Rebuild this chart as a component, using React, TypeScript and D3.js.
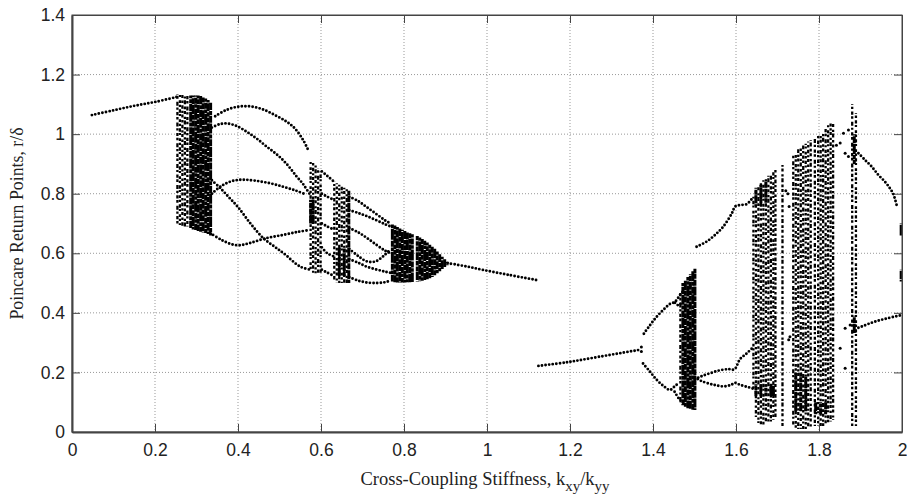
import React, { useEffect, useRef } from 'react'
import * as d3 from 'd3'

// tick values
const xTicks = [0, 0.2, 0.4, 0.6, 0.8, 1, 1.2, 1.4, 1.6, 1.8, 2]
const yTicks = [0, 0.2, 0.4, 0.6, 0.8, 1, 1.2, 1.4]

// single-valued / periodic branches, [k, r]
const branches: [number, number][][] = [
  [[0.048, 1.064], [0.10, 1.08], [0.15, 1.095], [0.20, 1.108], [0.253, 1.125]],
  [[0.345, 1.06], [0.37, 1.08], [0.40, 1.092], [0.43, 1.093], [0.46, 1.083], [0.49, 1.063], [0.517, 1.042], [0.537, 1.019], [0.557, 0.98], [0.569, 0.947]],
  [[0.337, 1.022], [0.355, 1.033], [0.373, 1.036], [0.395, 1.028], [0.421, 1.008], [0.445, 0.985], [0.469, 0.958], [0.495, 0.93], [0.517, 0.9], [0.54, 0.86], [0.557, 0.832], [0.572, 0.80]],
  [[0.337, 0.80], [0.36, 0.826], [0.385, 0.842], [0.41, 0.847], [0.44, 0.844], [0.477, 0.835], [0.51, 0.823], [0.54, 0.81], [0.565, 0.797]],
  [[0.337, 0.845], [0.36, 0.815], [0.38, 0.785], [0.40, 0.755], [0.43, 0.70], [0.46, 0.652], [0.49, 0.62], [0.51, 0.60], [0.55, 0.555], [0.578, 0.544]],
  [[0.333, 0.668], [0.36, 0.645], [0.385, 0.63], [0.405, 0.627], [0.43, 0.635], [0.469, 0.651], [0.51, 0.662], [0.545, 0.672], [0.573, 0.678]],
  [[0.602, 0.875], [0.615, 0.86], [0.63, 0.842]],
  [[0.602, 0.80], [0.615, 0.79], [0.63, 0.78]],
  [[0.602, 0.70], [0.615, 0.69], [0.63, 0.68]],
  [[0.602, 0.62], [0.615, 0.60], [0.63, 0.59]],
  [[0.602, 0.545], [0.615, 0.535], [0.63, 0.525]],
  [[0.668, 0.79], [0.69, 0.775], [0.71, 0.755], [0.735, 0.73], [0.755, 0.71], [0.768, 0.70]],
  [[0.668, 0.745], [0.69, 0.735], [0.71, 0.725], [0.735, 0.71], [0.755, 0.697], [0.768, 0.69]],
  [[0.668, 0.685], [0.69, 0.67], [0.71, 0.652], [0.735, 0.627], [0.755, 0.608], [0.768, 0.60]],
  [[0.668, 0.615], [0.69, 0.59], [0.71, 0.573], [0.73, 0.572], [0.75, 0.59], [0.768, 0.615]],
  [[0.668, 0.58], [0.69, 0.568], [0.71, 0.555], [0.735, 0.545], [0.755, 0.538], [0.768, 0.534]],
  [[0.668, 0.52], [0.69, 0.508], [0.71, 0.502], [0.735, 0.50], [0.755, 0.503], [0.768, 0.508]],
  [[0.905, 0.567], [0.95, 0.556], [0.991, 0.544], [1.05, 0.528], [1.12, 0.51]],
  [[1.124, 0.222], [1.192, 0.234], [1.272, 0.253], [1.364, 0.275]],
  [[1.378, 0.33], [1.393, 0.359], [1.409, 0.387], [1.425, 0.41], [1.441, 0.43], [1.453, 0.437], [1.465, 0.46], [1.477, 0.48]],
  [[1.453, 0.434], [1.462, 0.425], [1.47, 0.44]],
  [[1.376, 0.23], [1.393, 0.202], [1.409, 0.175], [1.425, 0.155], [1.441, 0.141], [1.452, 0.153], [1.462, 0.165]],
  [[1.452, 0.135], [1.465, 0.107], [1.473, 0.097]],
  [[1.501, 0.178], [1.515, 0.186], [1.537, 0.197], [1.561, 0.207], [1.583, 0.211], [1.596, 0.21], [1.61, 0.245], [1.626, 0.264], [1.64, 0.283]],
  [[1.501, 0.185], [1.515, 0.172], [1.545, 0.159], [1.57, 0.153], [1.588, 0.158], [1.598, 0.165], [1.61, 0.158], [1.626, 0.152], [1.64, 0.146]],
  [[1.505, 0.622], [1.529, 0.639], [1.549, 0.661], [1.569, 0.689], [1.59, 0.734], [1.598, 0.757], [1.61, 0.762], [1.626, 0.765], [1.642, 0.79]],
  [[1.895, 0.936], [1.911, 0.913], [1.927, 0.891], [1.943, 0.863], [1.959, 0.84], [1.971, 0.818], [1.979, 0.799], [1.987, 0.762]],
  [[1.895, 0.35], [1.903, 0.354], [1.923, 0.365], [1.943, 0.374], [1.963, 0.381], [1.987, 0.389], [1.998, 0.392]],
]

// chaotic columns, [k, rLow, rHigh]
const denseBands: [number, number, number][] = [
  [0.286, 0.685, 1.13], [0.292, 0.68, 1.13], [0.298, 0.678, 1.13], [0.304, 0.675, 1.13], [0.31, 0.672, 1.128],
  [0.316, 0.67, 1.125], [0.322, 0.668, 1.12], [0.328, 0.665, 1.115], [0.334, 0.66, 1.105],
  [0.575, 0.70, 0.78], [0.581, 0.70, 0.78],
  [0.644, 0.52, 0.62], [0.656, 0.52, 0.62], [0.667, 0.50, 0.81],
  [0.772, 0.505, 0.698], [0.778, 0.503, 0.693], [0.784, 0.502, 0.688], [0.79, 0.502, 0.683], [0.796, 0.502, 0.679],
  [0.802, 0.502, 0.675], [0.808, 0.503, 0.671], [0.814, 0.503, 0.667], [0.82, 0.504, 0.664],
  [0.832, 0.505, 0.658], [0.838, 0.506, 0.653], [0.844, 0.508, 0.648], [0.85, 0.51, 0.642], [0.856, 0.513, 0.636],
  [0.862, 0.516, 0.629], [0.868, 0.52, 0.622], [0.874, 0.526, 0.615], [0.88, 0.533, 0.606], [0.886, 0.54, 0.597],
  [0.892, 0.547, 0.588], [0.898, 0.554, 0.58], [0.904, 0.56, 0.572],
  [1.472, 0.09, 0.50], [1.478, 0.085, 0.51], [1.484, 0.08, 0.52], [1.49, 0.078, 0.53], [1.496, 0.075, 0.54], [1.501, 0.074, 0.548],
  [1.648, 0.12, 0.16], [1.66, 0.12, 0.16], [1.672, 0.12, 0.16], [1.684, 0.12, 0.16], [1.69, 0.12, 0.16],
  [1.648, 0.76, 0.82], [1.66, 0.76, 0.83], [1.672, 0.77, 0.84],
  [1.744, 0.07, 0.20], [1.756, 0.07, 0.20], [1.768, 0.07, 0.19], [1.792, 0.06, 0.10], [1.804, 0.06, 0.10], [1.816, 0.06, 0.10],
  [1.885, 0.90, 1.0], [1.885, 0.33, 0.39],
  [1.998, 0.66, 0.70], [1.998, 0.505, 0.545],
]

const sparseBands: [number, number, number][] = [
  [0.254, 0.70, 1.135], [0.26, 0.695, 1.135], [0.266, 0.69, 1.135], [0.272, 0.69, 1.135], [0.278, 0.69, 1.135],
  [0.575, 0.54, 0.91], [0.581, 0.535, 0.905], [0.587, 0.533, 0.895], [0.593, 0.533, 0.885], [0.599, 0.535, 0.875],
  [0.632, 0.505, 0.84], [0.638, 0.502, 0.835], [0.644, 0.50, 0.83], [0.65, 0.50, 0.825], [0.656, 0.50, 0.82], [0.662, 0.50, 0.815],
  [1.466, 0.10, 0.47],
  [1.642, 0.14, 0.79], [1.648, 0.05, 0.81], [1.654, 0.03, 0.825], [1.66, 0.025, 0.835], [1.666, 0.025, 0.845],
  [1.672, 0.03, 0.852], [1.678, 0.03, 0.86], [1.684, 0.035, 0.866], [1.69, 0.04, 0.874], [1.695, 0.05, 0.88],
  [1.712, 0.02, 0.896],
  [1.738, 0.02, 0.93], [1.744, 0.01, 0.94], [1.75, 0.01, 0.95], [1.756, 0.01, 0.955], [1.762, 0.01, 0.962],
  [1.768, 0.01, 0.968], [1.774, 0.015, 0.975], [1.78, 0.015, 0.98], [1.79, 0.02, 0.988],
  [1.798, 0.02, 0.996], [1.804, 0.02, 1.0], [1.81, 0.02, 1.01], [1.816, 0.025, 1.02], [1.822, 0.03, 1.03],
  [1.828, 0.035, 1.036], [1.834, 0.04, 1.04],
  [1.88, 0.02, 1.10], [1.889, 0.02, 1.07],
]

// isolated return points
const scatter: [number, number][] = [
  [1.372, 0.27], [1.372, 0.285], [1.72, 0.81], [1.725, 0.80], [1.728, 0.757], [1.727, 0.31], [1.73, 0.32],
  [1.851, 0.281], [1.863, 0.214], [1.842, 0.963], [1.851, 0.97], [1.859, 1.003], [1.871, 1.014],
  [1.863, 0.936], [1.871, 0.925], [1.863, 0.348], [1.875, 0.359],
]

// irregular marker spacing for the chaotic columns
const sparseDash = ['2.6 1.6 3.2 2.4 2.2 1.8 4 3', '3.4 2.2 2.4 1.6 2.8 3.2 2 1.4', '2.2 1.9 3.6 2.2 2.4 2.6 3 1.6', '4 1.6 2.2 2.8 3 1.8 2.6 2.4']
const denseDash = ['7 0.8 4 0.9 10 0.7', '5 0.7 9 0.9 6 0.8', '11 0.8 3.5 0.7 6 1', '4.5 0.9 8 0.7 5 0.8']

function App() {
  const svgRef = useRef<SVGSVGElement>(null)
  const W = 907
  const H = 500
  const margin = { top: 15, right: 5, bottom: 68, left: 72 }
  const width = W - margin.left - margin.right
  const height = H - margin.top - margin.bottom

  useEffect(() => {
    const root = d3.select(svgRef.current)
    root.selectAll('*').remove()
    const svg = root.append('g').attr('transform', `translate(${margin.left},${margin.top})`)

    const x = d3.scaleLinear().domain([0, 2]).range([0, width])
    const y = d3.scaleLinear().domain([0, 1.4]).range([height, 0])

    // grid
    svg.append('g').selectAll('line')
      .data(xTicks.slice(1, -1)).join('line')
      .attr('x1', d => x(d)).attr('x2', d => x(d)).attr('y1', 0).attr('y2', height)
      .attr('stroke', '#999').attr('stroke-width', 1).attr('stroke-dasharray', '1 2')
    svg.append('g').selectAll('line')
      .data(yTicks.slice(1, -1)).join('line')
      .attr('y1', d => y(d)).attr('y2', d => y(d)).attr('x1', 0).attr('x2', width)
      .attr('stroke', '#999').attr('stroke-width', 1).attr('stroke-dasharray', '1 2')

    // data
    const line = d3.line<[number, number]>().x(d => x(d[0])).y(d => y(d[1])).curve(d3.curveCatmullRom)
    svg.append('g').selectAll('path')
      .data(branches).join('path')
      .attr('d', d => line(d))
      .attr('fill', 'none').attr('stroke', '#000').attr('stroke-width', 2.9)
      .attr('stroke-linecap', 'round').attr('stroke-dasharray', '0 3.6')

    svg.append('g').selectAll('line')
      .data(sparseBands).join('line')
      .attr('x1', d => x(d[0])).attr('x2', d => x(d[0]))
      .attr('y1', d => y(d[1])).attr('y2', d => y(d[2]))
      .attr('stroke', '#000').attr('stroke-width', 2.3)
      .attr('stroke-dasharray', (d, i) => sparseDash[i % 4])
      .attr('stroke-dashoffset', (d, i) => (i * 1.7) % 5)

    svg.append('g').selectAll('line')
      .data(denseBands).join('line')
      .attr('x1', d => x(d[0])).attr('x2', d => x(d[0]))
      .attr('y1', d => y(d[1])).attr('y2', d => y(d[2]))
      .attr('stroke', '#000').attr('stroke-width', 3)
      .attr('stroke-dasharray', (d, i) => denseDash[i % 4])
      .attr('stroke-dashoffset', (d, i) => (i * 2.3) % 7)

    svg.append('g').selectAll('circle')
      .data(scatter).join('circle')
      .attr('cx', d => x(d[0])).attr('cy', d => y(d[1])).attr('r', 1.5).attr('fill', '#000')

    // box
    svg.append('rect').attr('width', width).attr('height', height)
      .attr('fill', 'none').attr('stroke', '#444').attr('stroke-width', 1)

    const fmt = (d: d3.NumberValue) => String(+d)
    const xAxis = svg.append('g').attr('transform', `translate(0,${height})`)
      .call(d3.axisBottom(x).tickValues(xTicks).tickFormat(fmt).tickSize(-8).tickSizeOuter(0).tickPadding(12))
    const yAxis = svg.append('g')
      .call(d3.axisLeft(y).tickValues(yTicks).tickFormat(fmt).tickSize(-8).tickSizeOuter(0).tickPadding(7))
    svg.append('g').call(d3.axisTop(x).tickValues(xTicks).tickFormat(() => '').tickSize(-8).tickSizeOuter(0))
    svg.append('g').attr('transform', `translate(${width},0)`)
      .call(d3.axisRight(y).tickValues(yTicks).tickFormat(() => '').tickSize(-8).tickSizeOuter(0))

    svg.selectAll('.domain').attr('stroke', '#444').attr('stroke-width', 1)
    xAxis.select('.domain').attr('stroke-width', 2)
    yAxis.select('.domain').attr('stroke-width', 2)
    svg.selectAll('.tick line').attr('stroke', '#444')
    svg.selectAll('.tick text').attr('fill', '#222')
      .style('font-family', '"Liberation Sans", Arial, sans-serif').style('font-size', '17.5px')

    // axis titles
    const xl = root.append('text')
      .attr('x', margin.left + x(1) - 2).attr('y', 485).attr('text-anchor', 'middle')
      .style('font-family', '"Liberation Serif", "Times New Roman", serif').style('font-size', '18.5px').attr('fill', '#222')
    xl.append('tspan').text('Cross-Coupling Stiffness, k')
    xl.append('tspan').text('xy').attr('dy', 6).style('font-size', '15px')
    xl.append('tspan').text('/k').attr('dy', -6)
    xl.append('tspan').text('yy').attr('dy', 6).style('font-size', '15px')

    root.append('text')
      .attr('transform', `translate(23,${margin.top + y(0.7)}) rotate(-90)`)
      .attr('text-anchor', 'middle')
      .style('font-family', '"Liberation Serif", "Times New Roman", serif').style('font-size', '17.8px').attr('fill', '#222')
      .text('Poincare Return Points, r/δ')
  }, [])

  return (
    <svg ref={svgRef} width={W} height={H} style={{ position: 'absolute', left: 0, top: 0, background: '#fff' }}></svg>
  )
}

export default App
